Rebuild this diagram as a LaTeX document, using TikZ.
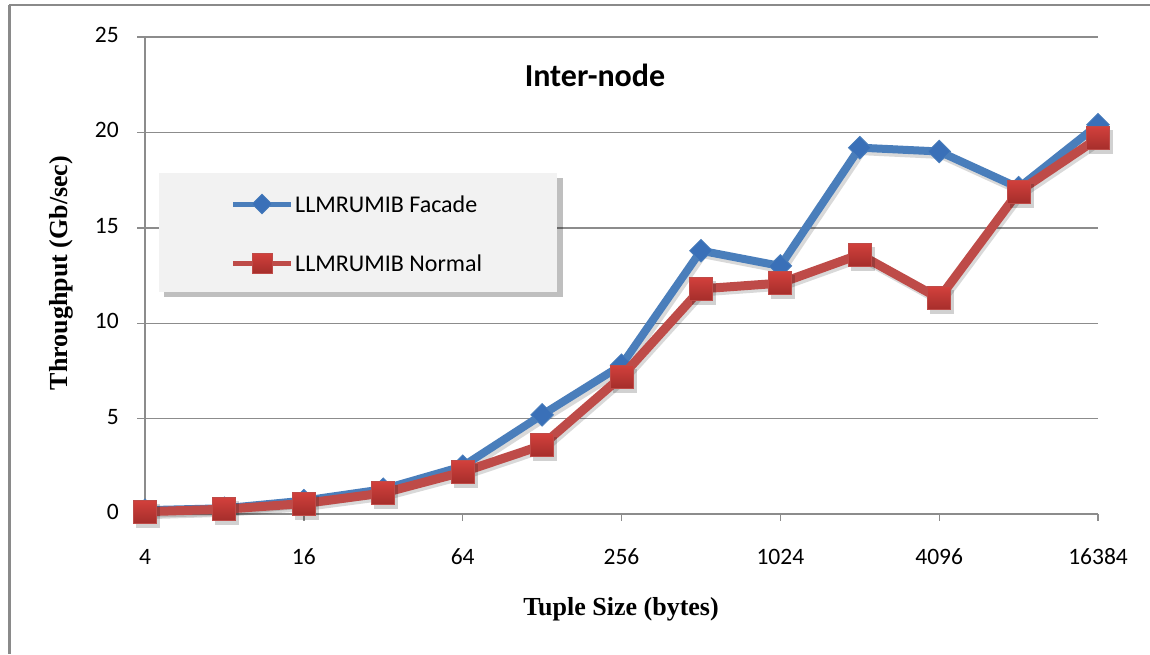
\documentclass[tikz,border=0pt]{standalone}
\usepackage{fontspec}
\setmainfont{Liberation Serif}
\setsansfont{Carlito}
\usetikzlibrary{shapes.geometric}
\definecolor{gridgray}{HTML}{8C8C8C}
\definecolor{framegray}{HTML}{8A8A8A}
\definecolor{fblue}{HTML}{4A7EBB}
\definecolor{fblued}{HTML}{3A70B8}
\definecolor{nred}{HTML}{BE4B48}
\definecolor{nredtop}{HTML}{D2403C}
\definecolor{nredbot}{HTML}{A52E2B}
\definecolor{legfill}{HTML}{F2F2F2}
\begin{document}
\begin{tikzpicture}[x=1pt,y=-1pt,
  gridline/.style={draw=gridgray,line width=1.4pt},
  ticklab/.style={font=\sffamily\fontsize{23.5}{25}\selectfont,inner sep=0pt},
  legtext/.style={font=\sffamily\fontsize{24}{26}\selectfont,anchor=west,inner sep=0pt},
  axtitle/.style={font=\rmfamily\bfseries\fontsize{26}{28}\selectfont,inner sep=0pt},
  fline/.style={draw=fblue,line width=8pt,line join=round},
  nline/.style={draw=nred,line width=9pt,line join=round},
  shline/.style={draw=black,opacity=0.15,line width=9pt,line join=round},
  fmarker/.style={diamond,fill=fblued,draw=fblue,line width=0.8pt,minimum size=23pt,inner sep=0pt},
  nmarker/.style={rectangle,top color=nredtop,bottom color=nredbot,draw=nred,line width=1pt,minimum size=23pt,inner sep=0pt},
  shmarker/.style={rectangle,fill=black,opacity=0.18,minimum size=24pt,inner sep=0pt}
]
\useasboundingbox (0,0) rectangle (1150,654);
\fill[white] (0,0) rectangle (1150,654);
% outer frame
\draw[framegray,line width=2pt] (9,5) -- (1150,5);
\draw[framegray,line width=3pt] (9,5) -- (9,654);
% grid lines and y labels
\foreach \v/\lab in {0/0,5/5,10/10,15/15,20/20,25/25}{
  \draw[gridline] (137,{514-19.08*\v}) -- (1098,{514-19.08*\v});
  \node[ticklab,anchor=east] (yl\v) at (119,{512-19.08*\v}) {\lab};
}
% axes
\draw[gridline] (145,37) -- (145,514);
\foreach \i/\lab in {0/4,2/16,4/64,6/256,8/1024,10/4096,12/16384}{
  \draw[gridline] ({145+79.42*\i},514) -- ({145+79.42*\i},521);
  \node[ticklab] (xl\i) at ({145+79.42*\i},557) {\lab};
}
% data coordinates
\foreach \v [count=\c from 0] in {0.2,0.3,0.7,1.3,2.5,5.2,7.8,13.8,13.0,19.2,19.0,17.1,20.4}
  \coordinate (f\c) at ({145+79.42*\c},{514-19.08*\v});
\foreach \v [count=\c from 0] in {0.12,0.25,0.55,1.1,2.2,3.6,7.2,11.8,12.1,13.6,11.3,16.9,19.7}
  \coordinate (n\c) at ({145+79.42*\c},{514-19.08*\v});
% Facade series
\draw[shline,transform canvas={shift={(2pt,-3pt)}}] (f0) -- (f1) -- (f2) -- (f3) -- (f4) -- (f5) -- (f6) -- (f7) -- (f8) -- (f9) -- (f10) -- (f11) -- (f12);
\draw[fline] (f0) -- (f1) -- (f2) -- (f3) -- (f4) -- (f5) -- (f6) -- (f7) -- (f8) -- (f9) -- (f10) -- (f11) -- (f12);
\foreach \c in {0,...,12}{
  \node[fmarker] (fm\c) at (f\c) {};
}
% Normal series
\draw[shline,transform canvas={shift={(2pt,-3pt)}}] (n0) -- (n1) -- (n2) -- (n3) -- (n4) -- (n5) -- (n6) -- (n7) -- (n8) -- (n9) -- (n10) -- (n11) -- (n12);
\draw[nline] (n0) -- (n1) -- (n2) -- (n3) -- (n4) -- (n5) -- (n6) -- (n7) -- (n8) -- (n9) -- (n10) -- (n11) -- (n12);
\foreach \c in {0,...,12}{
  \node[shmarker] (ns\c) at ([shift={(3,4)}]n\c) {};
  \node[nmarker] (nm\c) at (n\c) {};
}
% title
\node[font=\sffamily\bfseries\fontsize{32}{34}\selectfont,inner sep=0pt] (title) at (595,75) {Inter-node};
% legend
\fill[black,opacity=0.25] (164,178) rectangle (563,297);
\node[draw=none,fill=legfill,minimum width=398pt,minimum height=119pt,inner sep=0pt] (leg) at (358,232.5) {};
\coordinate (la1) at (233,204);
\coordinate (lb1) at (291,204);
\draw[draw=fblue,line width=5pt] (la1) -- (lb1);
\node[fmarker,minimum size=20pt] (lfm) at (262,204) {};
\node[legtext] (lft) at (295,204) {LLMRUMIB Facade};
\coordinate (la2) at (233,263);
\coordinate (lb2) at (291,263);
\draw[draw=nred,line width=5pt] (la2) -- (lb2);
\node[nmarker,minimum size=20pt] (lnm) at (262,263) {};
\node[legtext] (lnt) at (295,263) {LLMRUMIB Normal};
% axis titles
\node[axtitle] (xt) at (621,609) {Tuple Size (bytes)};
\node[axtitle,rotate=90] (yt) at (61,273) {Throughput (Gb/sec)};
\end{tikzpicture}
\end{document}
